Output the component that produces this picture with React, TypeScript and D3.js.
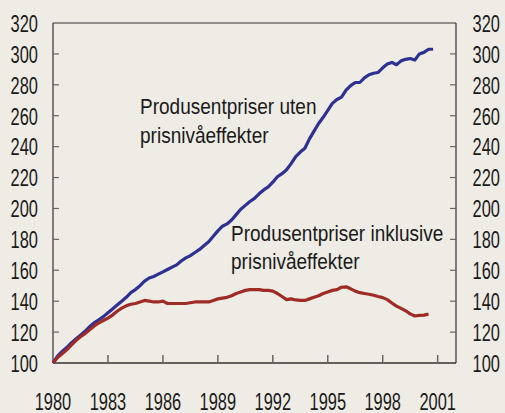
import React from "react";
import * as d3 from "d3";

const W = 505;
const H = 413;

const startYear = 1980;
const uten: number[] = [
  100, 104.5, 107.5, 110, 113, 115.5, 118, 120.5, 123.5, 126, 128, 130,
  132.5, 135, 137.5, 140, 142.5, 145.5, 147.5, 150, 153, 155, 156, 157.5,
  159, 160.5, 162, 163.5, 166, 168, 169.5, 171.5, 173.5, 176, 178.5, 182,
  185.5, 188.5, 190, 192.5, 196, 199.5, 202, 204.5, 206.5, 209.5, 212, 214,
  217, 220.5, 222.5, 225, 229, 233.5, 236.5, 239, 245, 250, 255, 259,
  263.5, 268, 270.5, 272, 276.5, 279.5, 281.5, 281.5, 284.5, 286.5, 287.5, 288,
  291, 293.5, 294.5, 293, 295.5, 296.5, 297, 296, 300, 301, 303, 303,
];
const inklusive: number[] = [
  100, 103.5, 106, 108.5, 111.5, 114.5, 117, 119, 121.5, 124, 126, 127.5,
  129, 131, 133.5, 135.5, 137, 138, 138.5, 139.5, 140.5, 140, 139.5, 139.5,
  140, 138.5, 138.5, 138.5, 138.5, 138.5, 139, 139.5, 139.5, 139.5, 139.5, 140.5,
  141.5, 142, 142.5, 143.5, 145, 146, 147, 147.5, 147.5, 147.5, 147, 147,
  146.5, 145, 143, 141, 141.5, 140.8, 140.5, 140.5, 141.5, 142.5, 143.5, 145,
  146, 147, 147.5, 149, 149.3, 148, 146.5, 145.5, 145, 144.5, 143.8, 143,
  142.3, 141, 138.8, 136.8, 135.3, 133.8, 131.8, 130.4, 130.8, 131, 131.6,
];
const yTicks: number[] = [100, 120, 140, 160, 180, 200, 220, 240, 260, 280, 300, 320];
const xTicks: number[] = [1980, 1983, 1986, 1989, 1992, 1995, 1998, 2001];
const label1: string[] = ["Produsentpriser uten", "prisnivåeffekter"];
const label2: string[] = ["Produsentpriser inklusive", "prisnivåeffekter"];

const FONT = "'Liberation Sans', Arial, sans-serif";
const BG = "#EFECE6";
const BLUE = "#2E3192";
const RED = "#9E2B25";
const AXIS = "#333333";
const TEXT = "#1a1a1a";
const TICK_FS = 24.5;
const TICK_SX = 0.67;
const ANN_FS = 22;
const ANN_SX = 0.865;

export default function App() {
  const left = 53;
  const right = 456;
  const top = 23;
  const bottom = 363;

  const x = d3.scaleLinear().domain([1980, 2002]).range([left, right]);
  const y = d3.scaleLinear().domain([100, 320]).range([bottom, top]);

  const line = d3
    .line<number>()
    .x((_, i) => x(startYear + i / 4))
    .y((d) => y(d))
    .curve(d3.curveLinear);

  const tr = (tx: number, ty: number, sx: number) => `translate(${tx},${ty}) scale(${sx},1)`;

  return (
    <svg
      width={W}
      height={H}
      style={{ position: "absolute", left: 0, top: 0 }}
      fontFamily={FONT}
    >
      <rect x={0} y={0} width={W} height={H} fill={BG} />

      {/* frame */}
      <line x1={left} x2={right} y1={top} y2={top} stroke={AXIS} strokeWidth={1.2} />
      <line x1={left} x2={left} y1={top} y2={bottom} stroke={AXIS} strokeWidth={1.2} />
      <line x1={right} x2={right} y1={top} y2={bottom} stroke={AXIS} strokeWidth={1.2} />
      <line x1={left} x2={right} y1={bottom} y2={bottom} stroke={AXIS} strokeWidth={1.5} />

      {/* y ticks */}
      {yTicks.map((t) => (
        <g key={"y" + t}>
          {t !== 100 && t !== 320 && (
            <>
              <line x1={left} x2={left + 6} y1={y(t)} y2={y(t)} stroke="#666" strokeWidth={1.2} />
              <line x1={right - 6} x2={right} y1={y(t)} y2={y(t)} stroke="#666" strokeWidth={1.2} />
            </>
          )}
          <text transform={tr(38, y(t), TICK_SX)} dy="0.36em" textAnchor="end" fontSize={TICK_FS} fill={TEXT}>
            {t}
          </text>
          <text transform={tr(472.5, y(t), TICK_SX)} dy="0.36em" textAnchor="start" fontSize={TICK_FS} fill={TEXT}>
            {t}
          </text>
        </g>
      ))}

      {/* x ticks */}
      {xTicks.map((t) => (
        <g key={"x" + t}>
          {t !== 1980 && (
            <line x1={x(t)} x2={x(t)} y1={bottom} y2={bottom - 8} stroke="#666" strokeWidth={1.5} />
          )}
          <text transform={tr(x(t), 409.5, TICK_SX)} textAnchor="middle" fontSize={TICK_FS} fill={TEXT}>
            {t}
          </text>
        </g>
      ))}

      {/* lines */}
      <path d={line(uten) || ""} fill="none" stroke={BLUE} strokeWidth={3.2} strokeLinejoin="round" />
      <path d={line(inklusive) || ""} fill="none" stroke={RED} strokeWidth={3.2} strokeLinejoin="round" />

      {/* annotations */}
      {label1.map((s, i) => (
        <text key={"a" + i} transform={tr(140, 114 + i * 29, ANN_SX)} fontSize={ANN_FS} fill={TEXT}>
          {s}
        </text>
      ))}
      {label2.map((s, i) => (
        <text key={"b" + i} transform={tr(231, 240.5 + i * 28, ANN_SX)} fontSize={ANN_FS} fill={TEXT}>
          {s}
        </text>
      ))}
    </svg>
  );
}
